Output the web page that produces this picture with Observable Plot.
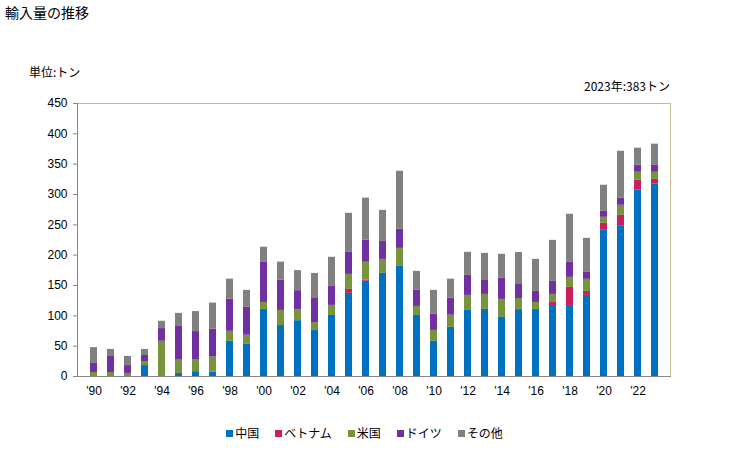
<!DOCTYPE html>
<html><head><meta charset="utf-8">
<script src="https://cdn.jsdelivr.net/npm/d3@7"></script>
<script src="https://cdn.jsdelivr.net/npm/@observablehq/plot@0.6"></script>
<style>
body{margin:0;background:#fff;font-family:"Noto Sans CJK JP",sans-serif;color:#000;}
#wrap{position:relative;width:729px;height:450px;overflow:hidden;}
.t{position:absolute;white-space:nowrap;}
#legend{position:absolute;top:424px;left:0;width:729px;text-align:center;font-size:12px;}
#legend span.item{margin:0 8px;}
#legend i{display:inline-block;width:7px;height:7px;margin-right:2px;vertical-align:1px;}
</style></head>
<body><div id="wrap">
<div class="t" style="left:5px;top:2px;font-size:14px;">輸入量の推移</div>
<div class="t" style="left:29px;top:63px;font-size:12px;">単位:トン</div>
<div class="t" style="right:59px;top:77px;font-size:12px;">2023年:383トン</div>
<div id="chart" style="position:absolute;left:0;top:0;"></div>
<div id="legend"></div>
</div>
<script>
const years = d3.range(1990, 2024);
const seriesNames = ["中国", "ベトナム", "米国", "ドイツ", "その他"];
const seriesColors = ["#0070c0", "#cc1e5e", "#77933c", "#7030a0", "#808080"];
const china   = [0,0,0,18,0,5,8,7,58,53,110.6,84,92,76,100.7,137,157,170,181.5,100.7,58,81,109,110.6,97.4,109,110.6,115.5,115.5,133.7,241,247.6,307,317];
const vietnam = [0,0,0,0,0,0,0,0,0,0,0,0,0,0,0,6.6,1.6,0,0,0,0,0,0,0,0,1.6,0,6.6,31.4,6.6,11.5,18.1,16.5,8];
const usa     = [6.6,6.6,5,6.6,58,23,20,25,16.5,15,11.5,25,18,13,16.5,24.7,29.7,23,29.7,14.8,18,20,24.7,24.7,29.7,18,11.5,13.2,16.5,19.8,9.9,16.5,13.2,11.6];
const germany = [15,26.4,13,10,21,54.5,46,46,53,46,66,49.5,31.5,39.6,31.3,36.3,36.3,29.7,31.4,26.5,26.4,28,33,23,34.7,23,18.2,21.5,24.7,11.5,9.9,11.6,11.5,11.5];
const other   = [26,11.6,15,10,12,21.5,33,43,33,28,25,30,33,41.3,48,64.4,69.4,51.2,95.7,31.3,39.6,31.4,38,44.6,39.6,52.8,52.8,67.6,79.3,56.1,42.9,77.5,28.1,34.9];
const yTicks = d3.range(0, 451, 50);
const xTicks = years.filter(y => y % 2 === 0);

const cols = [china, vietnam, usa, germany, other];
const data = [];
years.forEach((yr, i) => seriesNames.forEach((s, j) => data.push({year: yr, series: s, value: cols[j][i]})));

const chart = Plot.plot({
  width: 729, height: 410,
  marginTop: 103, marginBottom: 34, marginLeft: 77, marginRight: 59,
  style: {fontFamily: "'Liberation Sans', 'Noto Sans CJK JP', sans-serif", fontSize: "12px", color: "#000", background: "transparent"},
  x: {type: "band", domain: years, padding: 0.6, label: null, axis: null},
  y: {domain: [0, 450], label: null, axis: null},
  color: {domain: seriesNames, range: seriesColors},
  marks: [
    Plot.frame({stroke: "#c4bc96"}),
    Plot.barY(data, {x: "year", y: "value", fill: "series", order: seriesNames}),
    Plot.axisY({ticks: yTicks, tickSize: 4, tickPadding: 6, stroke: "#888", label: null, fontSize: 12}),
    Plot.axisX({ticks: xTicks, tickSize: 0, tickPadding: 10, label: null, tickFormat: d => "'" + String(d).slice(2), fontSize: 12}),
    Plot.frame({anchor: "left", stroke: "#888"}),
    Plot.frame({anchor: "bottom", stroke: "#888"})
  ]
});
document.getElementById("chart").appendChild(chart);

const lg = document.getElementById("legend");
seriesNames.forEach((s, j) => {
  const sp = document.createElement("span");
  sp.className = "item";
  sp.innerHTML = `<i style="background:${seriesColors[j]}"></i>${s}`;
  lg.appendChild(sp);
});
</script>
</body></html>
